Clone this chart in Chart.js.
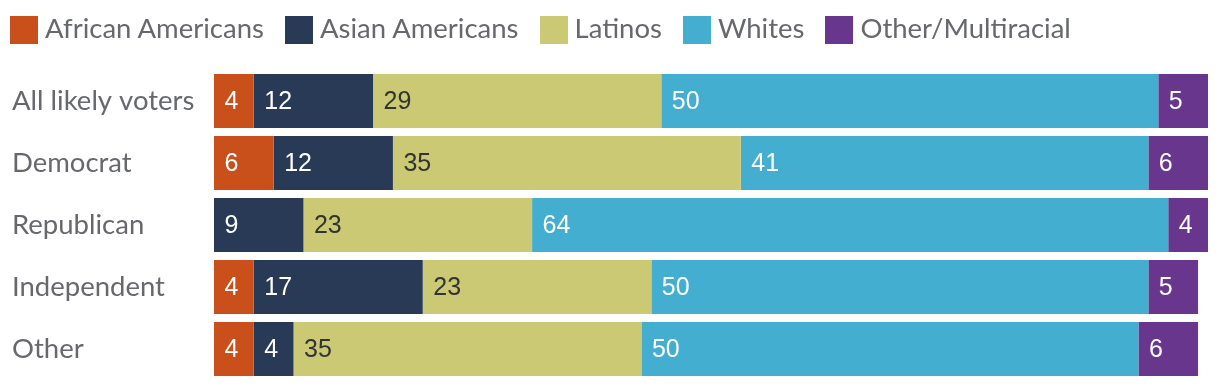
<!DOCTYPE html>
<html>
<head>
<meta charset="utf-8">
<script src="https://cdn.jsdelivr.net/npm/chart.js@4"></script>
<style>
  html, body { margin: 0; padding: 0; background: #fff; }
  #wrap { position: relative; width: 1220px; height: 386px; }
  #legend { position: absolute; left: 10px; top: 16px; display: flex; font-family: Lato, sans-serif; font-size: 27.5px; color: #66686d; }
  .item { display: flex; align-items: center; margin-right: 21px; height: 28px; }
  .box { width: 28px; height: 28px; margin-right: 7px; }
  .txt { position: relative; top: -3px; }
</style>
</head>
<body>
<div id="wrap">
  <canvas id="chart" width="1220" height="386"></canvas>
  <div id="legend"></div>
</div>
<script>
const categories = ['All likely voters', 'Democrat', 'Republican', 'Independent', 'Other'];
const seriesNames = ['African Americans', 'Asian Americans', 'Latinos', 'Whites', 'Other/Multiracial'];
const africanAmericans = [4, 6, 0, 4, 4];
const asianAmericans = [12, 12, 9, 17, 4];
const latinos = [29, 35, 23, 23, 35];
const whites = [50, 41, 64, 50, 50];
const otherMultiracial = [5, 6, 4, 5, 6];

const colors = ['#c94f1b', '#283a55', '#cbc974', '#44aed1', '#69368e'];
const labelColors = ['#fff', '#fff', '#333', '#fff', '#fff'];
const seriesValues = [africanAmericans, asianAmericans, latinos, whites, otherMultiracial];

// value labels drawn at the start of each segment
const segmentLabels = {
  id: 'segmentLabels',
  afterDatasetsDraw(chart) {
    const ctx = chart.ctx;
    ctx.save();
    ctx.font = '25px "Liberation Sans", Arial, sans-serif';
    ctx.textBaseline = 'middle';
    ctx.textAlign = 'left';
    chart.data.datasets.forEach((ds, i) => {
      chart.getDatasetMeta(i).data.forEach((bar, j) => {
        const v = ds.data[j];
        if (!v) return;
        ctx.fillStyle = labelColors[i];
        ctx.fillText(String(v), Math.min(bar.base, bar.x) + 10.5, bar.y + 1);
      });
    });
    ctx.restore();
  }
};

new Chart(document.getElementById('chart'), {
  type: 'bar',
  data: {
    labels: categories,
    datasets: seriesNames.map((name, i) => ({
      label: name,
      data: seriesValues[i],
      backgroundColor: colors[i],
      borderWidth: 0,
      barPercentage: 1,
      categoryPercentage: 54 / 62
    }))
  },
  options: {
    indexAxis: 'y',
    responsive: false,
    animation: false,
    layout: { padding: { left: 12, right: 12, top: 70, bottom: 6 } },
    plugins: { legend: { display: false }, tooltip: { enabled: false } },
    scales: {
      x: { stacked: true, min: 0, max: 100, display: false },
      y: {
        stacked: true,
        grid: { display: false },
        border: { display: false },
        ticks: {
          crossAlign: 'far',
          color: '#66686d',
          font: { family: 'Lato', size: 27.5 }
        },
        afterFit(scale) {
          scale.width = 202;
          scale.paddingTop = 0;
          scale.paddingBottom = 0;
        }
      }
    }
  },
  plugins: [segmentLabels]
});

// legend
const legend = document.getElementById('legend');
seriesNames.forEach((name, i) => {
  const item = document.createElement('div');
  item.className = 'item';
  item.innerHTML = '<span class="box" style="background:' + colors[i] + '"></span><span class="txt">' + name + '</span>';
  legend.appendChild(item);
});
</script>
</body>
</html>
